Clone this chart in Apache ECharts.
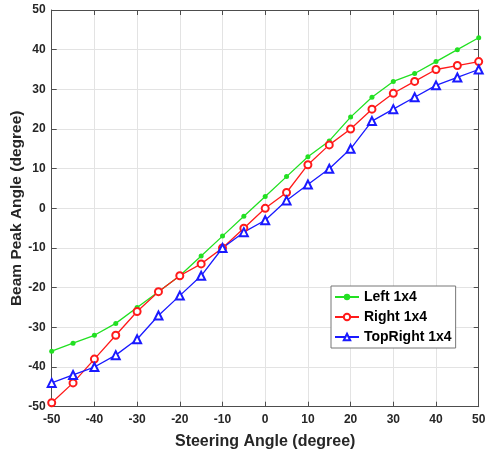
<!DOCTYPE html>
<html><head><meta charset="utf-8">
<script src="https://cdn.jsdelivr.net/npm/echarts@6/dist/echarts.min.js"></script>
<style>html,body{margin:0;padding:0;background:#fff}#c{width:485px;height:451px}</style>
</head><body><div id="c"></div>
<script>
const steering = [-50,-45,-40,-35,-30,-25,-20,-15,-10,-5,0,5,10,15,20,25,30,35,40,45,50];
const left1x4 = [-36,-34,-32,-29,-25,-21,-17,-12,-7,-2,3,8,13,17,23,28,32,34,37,40,43];
const right1x4 = [-49,-44,-38,-32,-26,-21,-17,-14,-10,-5,0,4,11,16,20,25,29,32,35,36,37];
const topRight1x4 = [-44,-42,-40,-37,-33,-27,-22,-17,-10,-6,-3,2,6,10,15,22,25,28,31,33,35];
const xTicks = [-50,-40,-30,-20,-10,0,10,20,30,40,50];
const yTicks = [-50,-40,-30,-20,-10,0,10,20,30,40,50];

const FONT = '"Liberation Sans", Arial, sans-serif';
const AX = '#4d4d4d';
const zip = (xs, ys) => xs.map((x, i) => [x, ys[i]]);

const baseAxis = (extra) => Object.assign({
  type: 'value', min: -50, max: 50, interval: 10,
  axisLine: { show: true, onZero: false, lineStyle: { color: AX, width: 1 } },
  axisTick: { show: true, inside: true, length: 5, lineStyle: { color: AX } },
  splitLine: { show: false },
  axisLabel: { show: false }
}, extra);

const chart = echarts.init(document.getElementById('c'), null, { renderer: 'canvas' });
chart.setOption({
  animation: false,
  backgroundColor: '#fff',
  grid: { left: 51.7, right: 6.3, top: 10, bottom: 44.3, containLabel: false, outerBoundsMode: 'none' },
  xAxis: [
    baseAxis({
      position: 'bottom',
      name: 'Steering Angle (degree)', nameLocation: 'middle', nameGap: 27, nameMoveOverlap: false,
      nameTextStyle: { fontFamily: FONT, fontWeight: 'bold', fontSize: 16, color: '#262626' },
      splitLine: { show: true, lineStyle: { color: '#e3e3e3', width: 1 } },
      axisLabel: { show: true, fontFamily: FONT, fontWeight: 'bold', fontSize: 12, color: '#262626', margin: 7,
        formatter: v => xTicks.includes(v) ? String(v) : '' }
    }),
    baseAxis({ position: 'top' })
  ],
  yAxis: [
    baseAxis({
      position: 'left',
      name: 'Beam Peak Angle (degree)', nameLocation: 'middle', nameGap: 27, nameRotate: 90, nameMoveOverlap: false,
      nameTextStyle: { fontFamily: FONT, fontWeight: 'bold', fontSize: 15.5, color: '#262626' },
      splitLine: { show: true, lineStyle: { color: '#e3e3e3', width: 1 } },
      axisLabel: { show: true, fontFamily: FONT, fontWeight: 'bold', fontSize: 12, color: '#262626', margin: 6,
        formatter: v => yTicks.includes(v) ? String(v) : '' }
    }),
    baseAxis({ position: 'right' })
  ],
  legend: {
    show: true, orient: 'vertical', left: 331, top: 286,
    backgroundColor: '#fff', borderColor: '#777', borderWidth: 1,
    padding: [4, 4, 4, 3], itemGap: 6, itemWidth: 24, itemHeight: 8,
    textStyle: { fontFamily: FONT, fontWeight: 'bold', fontSize: 14, color: '#000' },
    data: ['Left 1x4', 'Right 1x4', 'TopRight 1x4']
  },
  series: [
    { name: 'Left 1x4', type: 'line', data: zip(steering, left1x4),
      symbol: 'circle', symbolSize: 5, color: '#22e022',
      lineStyle: { width: 1.3, color: '#22e022' }, itemStyle: { color: '#22e022' } },
    { name: 'Right 1x4', type: 'line', data: zip(steering, right1x4),
      symbol: 'emptyCircle', symbolSize: 7, color: '#ff1a1a',
      lineStyle: { width: 1.3, color: '#ff1a1a' }, itemStyle: { color: '#ff1a1a', borderWidth: 1.1 } },
    { name: 'TopRight 1x4', type: 'line', data: zip(steering, topRight1x4),
      symbol: 'emptyTriangle', symbolSize: 8, color: '#1a1aff',
      lineStyle: { width: 1.3, color: '#1a1aff' }, itemStyle: { color: '#1a1aff', borderWidth: 1.2 } }
  ]
});
</script></body></html>
